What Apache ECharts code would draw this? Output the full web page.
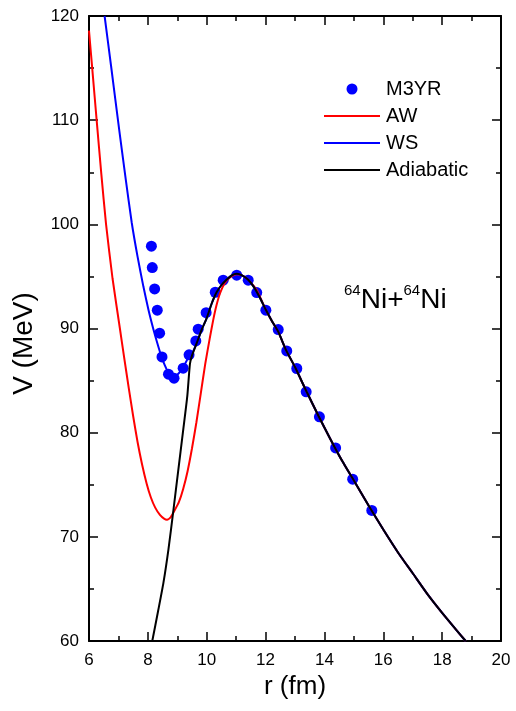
<!DOCTYPE html>
<html>
<head>
<meta charset="utf-8">
<script src="https://cdn.jsdelivr.net/npm/echarts@6/dist/echarts.min.js"></script>
<style>
  html, body { margin: 0; padding: 0; background: #fff; }
  #chart { width: 516px; height: 711px; }
</style>
</head>
<body>
<div id="chart"></div>
<script>
// Interaction potential for 64Ni + 64Ni: radius r (fm) and potential V (MeV)
const m3yrR = [8.12, 8.15, 8.23, 8.32, 8.40, 8.48, 8.70, 8.89, 9.20, 9.40, 9.63, 9.71, 9.98,
  10.29, 10.56, 11.02, 11.41, 11.70, 12.01, 12.43, 12.72, 13.06, 13.38, 13.83, 14.38, 14.96, 15.61];
const m3yrV = [97.9, 95.85, 93.8, 91.76, 89.55, 87.27, 85.61, 85.23, 86.19, 87.47, 88.81, 89.93, 91.52,
  93.48, 94.64, 95.12, 94.64, 93.45, 91.76, 89.90, 87.85, 86.16, 83.92, 81.52, 78.54, 75.54, 72.53];

const awR = [6.00, 6.13, 6.26, 6.42, 6.58, 6.80, 7.05, 7.19, 7.35, 7.50, 7.65, 7.80, 7.96, 8.10, 8.25,
  8.41, 8.55, 8.65, 8.78, 8.92, 9.05, 9.20, 9.35, 9.50, 9.65, 9.80, 9.95, 10.10, 10.22, 10.33,
  10.45, 10.60, 10.79, 11.02, 11.20, 11.36, 11.50, 11.70, 11.85, 12.00, 12.20, 12.43, 12.70, 13.00,
  13.40, 13.80, 14.20, 14.60, 15.00, 15.50, 16.00, 16.50, 17.00, 17.50, 18.00, 18.50, 18.80];
const awV = [118.6, 114.3, 110.0, 104.8, 100.0, 94.8, 90.0, 87.3, 84.3, 81.6, 79.1, 77.0, 75.1, 73.8, 72.8,
  72.1, 71.75, 71.65, 71.9, 72.6, 73.3, 74.6, 76.3, 78.5, 81.0, 83.8, 86.6, 89.0, 90.8, 92.2,
  93.36, 94.3, 94.9, 95.2, 95.1, 94.8, 94.4, 93.7, 92.8, 91.85, 90.8, 89.7, 87.9, 86.3,
  83.9, 81.6, 79.4, 77.3, 75.4, 73.0, 70.7, 68.5, 66.5, 64.5, 62.7, 61.0, 60.0];

const wsR = [6.53, 6.75, 7.03, 7.25, 7.45, 7.65, 7.85, 8.02, 8.19, 8.32, 8.45, 8.57, 8.69, 8.80, 8.89,
  9.05, 9.20, 9.30, 9.41, 9.50, 9.66, 9.83, 10.00, 10.17, 10.34, 10.51, 10.68, 10.85, 11.02, 11.20,
  11.40, 11.60, 11.80, 12.00, 12.20, 12.43, 12.70, 13.00, 13.40, 13.80, 14.20, 14.60, 15.00, 15.50,
  16.00, 16.50, 17.00, 17.50, 18.00, 18.50, 18.80];
const wsV = [120.0, 115.2, 109.0, 104.3, 100.2, 96.9, 94.0, 91.8, 89.9, 88.6, 87.4, 86.5, 85.8, 85.45, 85.35,
  85.7, 86.3, 86.8, 87.44, 87.6, 88.6, 89.9, 91.0, 92.4, 93.5, 94.2, 94.7, 95.1, 95.25, 95.1,
  94.7, 94.0, 93.0, 91.85, 90.8, 89.7, 87.9, 86.3, 83.9, 81.6, 79.4, 77.3, 75.4, 73.0,
  70.7, 68.5, 66.5, 64.5, 62.7, 61.0, 60.0];

const adiR = [8.15, 8.35, 8.53, 8.70, 8.87, 9.03, 9.19, 9.34, 9.43, 9.50, 9.66, 9.83, 10.00, 10.17,
  10.34, 10.51, 10.68, 10.85, 11.02, 11.20, 11.40, 11.60, 11.80, 12.00, 12.20, 12.43, 12.70, 13.00,
  13.40, 13.80, 14.20, 14.60, 15.00, 15.50, 16.00, 16.50, 17.00, 17.50, 18.00, 18.50, 18.80];
const adiV = [60.0, 62.9, 65.6, 68.8, 72.6, 76.3, 80.0, 83.5, 86.6, 87.4, 88.6, 89.9, 91.0, 92.4,
  93.5, 94.2, 94.7, 95.1, 95.25, 95.1, 94.7, 94.0, 93.0, 91.85, 90.8, 89.7, 87.9, 86.3,
  83.9, 81.6, 79.4, 77.3, 75.4, 73.0, 70.7, 68.5, 66.5, 64.5, 62.7, 61.0, 60.0];

const xTicks = { min: 6, max: 20, interval: 2 };
const yTicks = { min: 60, max: 120, interval: 10 };

const pairs = (xs, ys) => xs.map((x, i) => [x, ys[i]]);
const FONT = 'Liberation Sans, Arial, sans-serif';
// flat bar used as the legend glyph of the curves
const LINE_ICON = 'path://M0,0h56v2h-56z';

const frameAxis = {
  axisLine: { show: true, onZero: false, lineStyle: { color: '#000', width: 2 } },
  axisTick: { show: true, inside: true, length: 9, lineStyle: { color: '#000', width: 1.5 } },
  minorTick: { show: true, splitNumber: 2, length: 5, lineStyle: { color: '#000', width: 1.5 } },
  splitLine: { show: false },
  minorSplitLine: { show: false }
};

const curve = (name, xs, ys, color, z) => ({
  name, type: 'line', data: pairs(xs, ys), symbol: 'none', showSymbol: false,
  smooth: 0.2,
  lineStyle: { color, width: 2 }, itemStyle: { color }, z
});

const chart = echarts.init(document.getElementById('chart'), null, { renderer: 'canvas' });
chart.setOption({
  animation: false,
  backgroundColor: '#fff',
  grid: { left: 89, right: 15, top: 16, bottom: 70 },
  xAxis: [
    Object.assign({
      type: 'value', position: 'bottom', min: xTicks.min, max: xTicks.max, interval: xTicks.interval,
      name: 'r (fm)', nameLocation: 'middle', nameGap: 33,
      nameTextStyle: { fontFamily: FONT, fontSize: 26, color: '#000' },
      axisLabel: { fontFamily: FONT, fontSize: 17, color: '#000', margin: 11 }
    }, frameAxis),
    Object.assign({
      type: 'value', position: 'top', min: xTicks.min, max: xTicks.max, interval: xTicks.interval,
      axisLabel: { show: false }
    }, frameAxis)
  ],
  yAxis: [
    Object.assign({
      type: 'value', position: 'left', min: yTicks.min, max: yTicks.max, interval: yTicks.interval,
      name: 'V (MeV)', nameLocation: 'middle', nameGap: 51,
      nameTextStyle: { fontFamily: FONT, fontSize: 28, color: '#000', padding: [0, 30, 0, 0] },
      axisLabel: { fontFamily: FONT, fontSize: 17, color: '#000', margin: 10 }
    }, frameAxis),
    Object.assign({
      type: 'value', position: 'right', min: yTicks.min, max: yTicks.max, interval: yTicks.interval,
      axisLabel: { show: false }
    }, frameAxis)
  ],
  legend: {
    orient: 'vertical', left: 324, top: 79, padding: 0,
    itemWidth: 56, itemHeight: 11, itemGap: 7,
    textStyle: { fontFamily: FONT, fontSize: 20, color: '#000', lineHeight: 20, padding: [0, 0, 0, 1] },
    data: [
      { name: 'M3YR', icon: 'circle' },
      { name: 'AW', icon: LINE_ICON },
      { name: 'WS', icon: LINE_ICON },
      { name: 'Adiabatic', icon: LINE_ICON }
    ]
  },
  graphic: [{
    type: 'text', left: 344, top: 283, z: 10,
    style: {
      text: '{s|64}{m|Ni+}{s|64}{m|Ni}',
      rich: {
        s: { fontFamily: FONT, fontSize: 15, lineHeight: 15, verticalAlign: 'top', fill: '#000' },
        m: { fontFamily: FONT, fontSize: 28, lineHeight: 31, verticalAlign: 'bottom', fill: '#000' }
      }
    }
  }],
  series: [
    {
      name: 'M3YR', type: 'scatter', data: pairs(m3yrR, m3yrV),
      symbol: 'circle', symbolSize: 11, itemStyle: { color: '#0000ff', opacity: 1 }, z: 1
    },
    curve('AW', awR, awV, '#ff0000', 2),
    curve('WS', wsR, wsV, '#0000ff', 3),
    curve('Adiabatic', adiR, adiV, '#000000', 4)
  ]
});
</script>
</body>
</html>
